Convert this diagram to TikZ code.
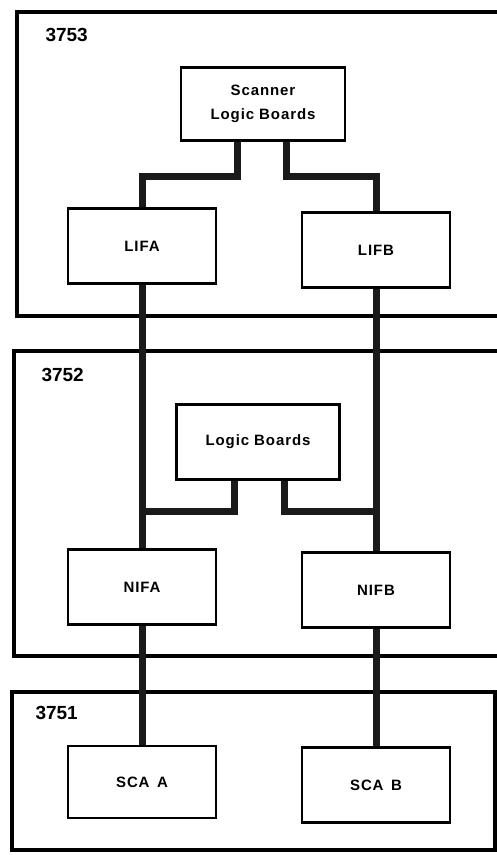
\documentclass[tikz,border=0pt]{standalone}
\usepackage{fontspec}
\setmainfont{Liberation Sans}
\newfontfamily\boxfont[LetterSpace=6]{Liberation Sans}
\usepackage{tikz}
\usetikzlibrary{positioning,calc}
\definecolor{Bus}{HTML}{1A1A1A}

\tikzset{
  board/.style={draw,line width=2.5bp,fill=white,minimum width=148bp,minimum height=75bp,
    align=center,font=\boxfont\bfseries\fontsize{15bp}{24bp}\selectfont},
  frame/.style={line width=3.5bp,line join=miter},
  bus/.style={Bus,line width=7bp,line join=miter},
  unit/.style={anchor=west,font=\bfseries\fontsize{19bp}{19bp}\selectfont}
}

\begin{document}
\begin{tikzpicture}[x=1bp,y=-1bp]
\useasboundingbox (0,0) rectangle (497,855);
% machine frames
\draw[frame] (497,12) -- (17,12) -- (17,316) -- (497,316);
\draw[frame] (497,351) -- (14,351) -- (14,656) -- (497,656);
\draw[frame] (12,692) rectangle (495,850);
\node[unit] (u3753) at (42,35) {3753};
\node[unit] (u3752) at (38,375) {3752};
\node[unit] (u3751) at (32,713) {3751};
% boards
\node[board,minimum width=164bp,minimum height=73bp] (scan) at (263,104) {Scanner\\Logic Boards};
\node[board] (lifa) at (142,246) {LIFA};
\node[board] (lifb) at (376,250) {LIFB};
\node[board,minimum width=163bp] (logic) at (258,442) {Logic Boards};
\node[board] (nifa) at (142,587) {NIFA};
\node[board] (nifb) at (376,590) {NIFB};
\node[board,minimum height=72bp] (scaa) at (142,782) {SCA\enspace A};
\node[board] (scab) at (376,785) {SCA\enspace B};
% where the logic boards join the buses
\coordinate (jl) at ($(lifa.south)!0.86!(nifa.north)$);
\coordinate (jr) at (lifb.south |- jl);
% buses
\draw[bus] ([xshift=-26bp]scan.south) -- ++(0,35) -| (lifa.north);
\draw[bus] ([xshift=23bp]scan.south) -- ++(0,35) -| (lifb.north);
\draw[bus] (lifa.south) -- (nifa.north);
\draw[bus] (lifb.south) -- (nifb.north);
\draw[bus] ([xshift=-24bp]logic.south) |- (jl);
\draw[bus] ([xshift=26bp]logic.south) |- (jr);
\draw[bus] (nifa.south) -- (scaa.north);
\draw[bus] (nifb.south) -- (scab.north);
\end{tikzpicture}
\end{document}
